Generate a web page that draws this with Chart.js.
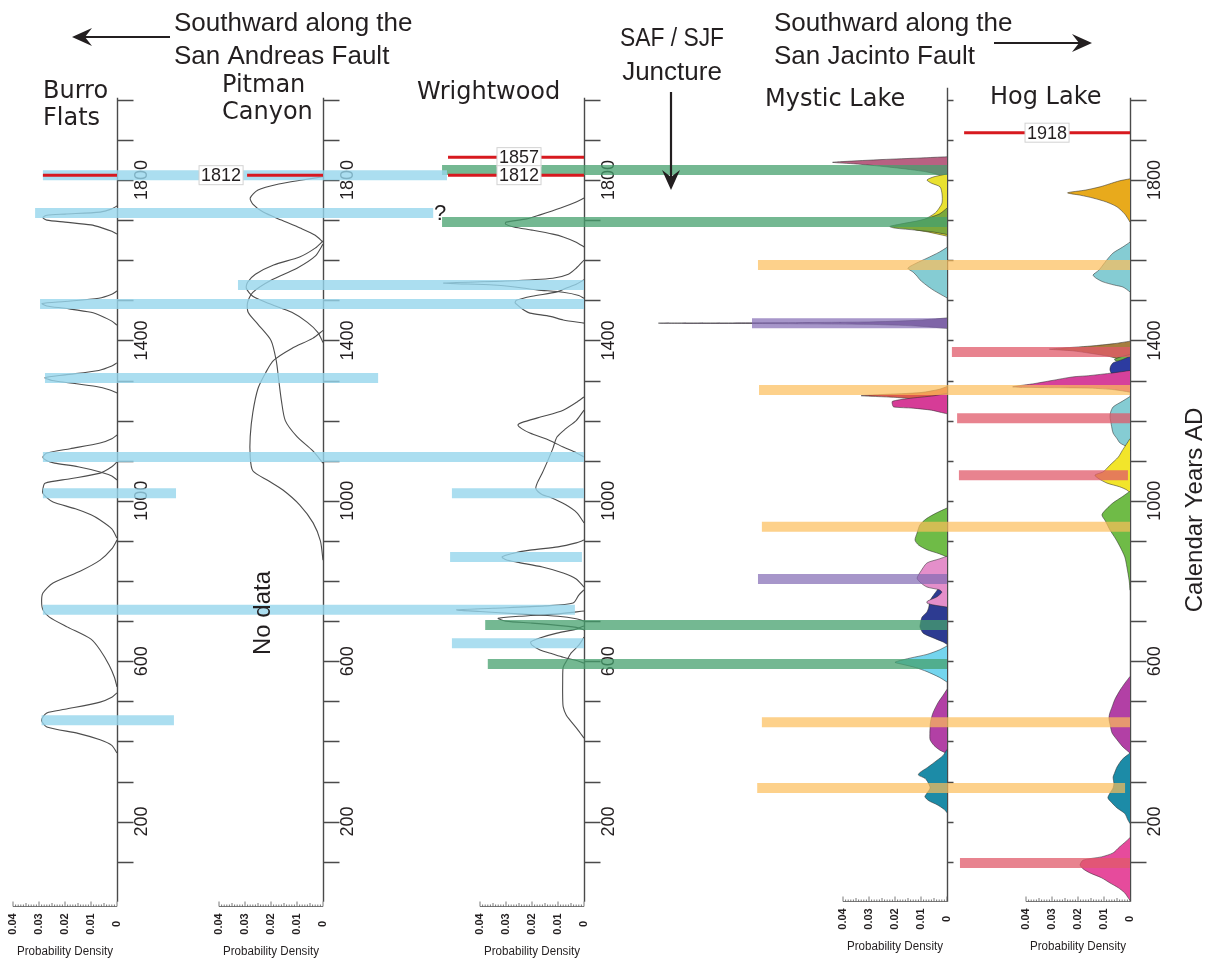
<!DOCTYPE html>
<html>
<head>
<meta charset="utf-8">
<title>Paleoseismic event correlation, SAF / SJF</title>
<script src="https://cdn.jsdelivr.net/npm/chart.js@4.4.1/dist/chart.umd.min.js"></script>
<style>
  html, body { margin: 0; padding: 0; background: #fff; }
  #wrap { width: 1215px; height: 965px; }
</style>
</head>
<body>
<div id="wrap"><canvas id="chart" width="1215" height="965"></canvas></div>
<script>
// ---- values ----
// tick labels
const yearTicks = [200, 600, 1000, 1400, 1800];
const densityTicks = [0.04, 0.03, 0.02, 0.01, 0];

// event probability curves, [calendar year AD, probability density]
// Burro Flats
const bf1 = [[1735,0],[1728,0.002],[1720,0.0065],[1715,0.02],[1712,0.027],[1706,0.0285],[1700,0.027],[1695,0.02],[1688,0.01],[1680,0.0055],[1672,0.002],[1665,0]];
const bf2 = [[1523,0],[1515,0.002],[1505,0.007],[1497,0.02],[1492,0.0288],[1486,0.027],[1480,0.02],[1470,0.01],[1458,0.005],[1448,0.002],[1438,0]];
const bf3 = [[1344,0],[1336,0.002],[1325,0.007],[1314,0.02],[1307,0.0277],[1300,0.025],[1294,0.018],[1285,0.008],[1277,0.003],[1269,0]];
const bf4 = [[1164,0],[1155,0.002],[1144,0.0065],[1130,0.018],[1119,0.027],[1109,0.0285],[1100,0.027],[1094,0.024],[1085,0.015],[1072,0.0065],[1062,0.002],[1052,0]];
const bf5 = [[1097,0],[1085,0.002],[1069,0.0065],[1055,0.018],[1044,0.0277],[1030,0.0285],[1019,0.0285],[1008,0.027],[997,0.0246],[980,0.016],[965,0.01],[952,0.0065],[930,0.002],[907,0]];
const bf6 = [[902,0],[880,0.002],[852,0.0065],[825,0.014],[795,0.0246],[770,0.0285],[750,0.029],[728,0.0285],[710,0.026],[685,0.019],[655,0.01],[628,0.0065],[590,0.003],[560,0.001],[536,0]];
const bf7 = [[521,0],[510,0.002],[498,0.0065],[480,0.02],[471,0.027],[453,0.029],[436,0.027],[420,0.015],[404,0.0065],[390,0.002],[371,0]];
// Pitman Canyon
const pc1 = [[1808,0],[1800,0.008],[1790,0.017],[1775,0.025],[1755,0.028],[1740,0.027],[1720,0.023],[1700,0.016],[1680,0.0088],[1662,0.003],[1645,0]];
const pc2 = [[1648,0],[1630,0.003],[1608,0.009],[1588,0.019],[1565,0.026],[1545,0.029],[1530,0.0295],[1510,0.027],[1490,0.02],[1470,0.012],[1445,0.006],[1420,0.002],[1395,0]];
const pc3 = [[1640,0],[1610,0.003],[1580,0.01],[1550,0.02],[1520,0.027],[1495,0.029],[1470,0.0288],[1440,0.025],[1400,0.02],[1350,0.018],[1300,0.017],[1250,0.016],[1200,0.0145],[1160,0.01],[1125,0.004],[1094,0]];
const pc4 = [[1425,0],[1405,0.004],[1380,0.012],[1350,0.019],[1320,0.022],[1280,0.025],[1220,0.027],[1160,0.028],[1110,0.028],[1075,0.027],[1050,0.021],[1027,0.0154],[990,0.009],[945,0.0038],[900,0.001],[852,0]];
// Wrightwood
const ww1 = [[1755,0],[1745,0.003],[1730,0.009],[1713,0.0169],[1703,0.022],[1695,0.03],[1690,0.0302],[1683,0.027],[1675,0.02],[1665,0.012],[1658,0.008],[1645,0.003],[1633,0]];
const ww2 = [[1600,0],[1580,0.003],[1565,0.006],[1555,0.012],[1548,0.03],[1543,0.054],[1538,0.035],[1532,0.025],[1526,0.018],[1520,0.008],[1512,0.002],[1505,0]];
const ww3 = [[1551,0],[1540,0.003],[1530,0.007],[1521,0.0104],[1510,0.02],[1500,0.026],[1494,0.0265],[1485,0.025],[1475,0.023],[1468,0.0208],[1460,0.013],[1451,0.008],[1443,0]];
const ww4 = [[1259,0],[1245,0.003],[1226,0.008],[1210,0.016],[1195,0.024],[1189,0.0254],[1180,0.024],[1169,0.0208],[1150,0.013],[1134,0.008],[1120,0.003],[1109,0]];
const ww5 = [[1226,0],[1200,0.003],[1180,0.007],[1159,0.0104],[1130,0.012],[1102,0.0138],[1070,0.016],[1044,0.018],[1030,0.0185],[1015,0.016],[1009,0.013],[990,0.007],[970,0.0027],[945,0]];
const ww6 = [[902,0],[895,0.003],[885,0.01],[877,0.0208],[868,0.028],[860,0.0315],[853,0.03],[847,0.0258],[835,0.016],[820,0.008],[805,0.003],[785,0]];
const ww7 = [[778,0],[765,0.002],[745,0.0042],[738,0.015],[732,0.035],[728,0.049],[724,0.04],[718,0.025],[712,0.01],[706,0.003],[700,0]];
const ww8 = [[725,0],[718,0.01],[712,0.025],[707,0.033],[700,0.03],[695,0.02],[688,0.008],[683,0.002],[678,0]];
const ww9 = [[688,0],[680,0.003],[670,0.0104],[658,0.017],[648,0.0205],[640,0.02],[628,0.0169],[618,0.012],[610,0.008],[600,0.002],[595,0]];
const ww10 = [[660,0],[640,0.002],[620,0.005],[603,0.0065],[585,0.008],[550,0.0082],[510,0.0082],[486,0.008],[465,0.0068],[453,0.0054],[430,0.0025],[408,0]];
// Mystic Lake
const ml1 = [[1858,0],[1855,0.01],[1851,0.025],[1846,0.04],[1844,0.044],[1840,0.035],[1836,0.028],[1832,0.022],[1826,0.014],[1820,0.0077],[1812,0.0027],[1805,0]];
const ml2 = [[1815,0],[1808,0.005],[1800,0.0077],[1792,0.006],[1783,0.0027],[1765,0.0019],[1743,0.0019],[1730,0.003],[1718,0.0045],[1700,0.009],[1688,0.013],[1678,0.013],[1670,0.007],[1660,0]];
const ml3 = [[1730,0],[1715,0.003],[1700,0.01],[1690,0.018],[1684,0.022],[1680,0.02],[1675,0.012],[1670,0.005],[1664,0]];
const ml4 = [[1632,0],[1620,0.003],[1605,0.0077],[1592,0.012],[1580,0.015],[1570,0.013],[1560,0.0115],[1551,0.0104],[1538,0.008],[1526,0.0054],[1515,0.0025],[1506,0]];
const ml5 = [[1456,0],[1450,0.012],[1446,0.03],[1444,0.07],[1443,0.111],[1442,0.07],[1440,0.03],[1436,0.012],[1430,0]];
const ml6 = [[1285,0],[1278,0.003],[1270,0.01],[1265,0.025],[1262,0.033],[1258,0.02],[1252,0.01],[1245,0.004],[1238,0]];
const ml7 = [[1268,0],[1262,0.005],[1255,0.015],[1248,0.021],[1240,0.021],[1234,0.0205],[1231,0.013],[1226,0.006],[1221,0.0027],[1217,0]];
const ml8 = [[982,0],[970,0.004],[955,0.008],[940,0.0104],[920,0.0115],[902,0.0123],[890,0.011],[878,0.0077],[868,0.003],[860,0]];
const ml9 = [[815,0],[800,0.0015],[777,0.0038],[752,0.0065],[735,0.007],[723,0.0077],[710,0.0096],[695,0.0102],[685,0.0104],[670,0.0092],[660,0.006],[648,0.0015],[642,0]];
const ml10 = [[862,0],[855,0.003],[845,0.0077],[825,0.01],[807,0.0115],[795,0.01],[785,0.0077],[778,0.003],[772,0.002],[760,0.004],[750,0.0075],[745,0.0077],[740,0.005],[735,0]];
const ml11 = [[638,0],[628,0.003],[617,0.0077],[608,0.014],[600,0.019],[597,0.02],[592,0.017],[584,0.012],[574,0.0077],[560,0.003],[548,0]];
const ml12 = [[530,0],[515,0.0015],[496,0.0035],[471,0.0054],[450,0.0063],[436,0.0065],[420,0.0066],[404,0.0065],[390,0.005],[378,0.0027],[370,0]];
const ml13 = [[380,0],[365,0.0015],[353,0.0038],[335,0.0075],[322,0.0105],[316,0.011],[308,0.0085],[300,0.0075],[284,0.0065],[270,0.0078],[262,0.0085],[252,0.007],[242,0.0038],[230,0.001],[222,0]];
// Hog Lake
const hl1 = [[1803,0],[1798,0.004],[1790,0.008],[1783,0.0115],[1775,0.017],[1768,0.024],[1762,0.019],[1755,0.0142],[1745,0.009],[1733,0.005],[1715,0.002],[1695,0]];
const hl2 = [[1645,0],[1632,0.003],[1618,0.0065],[1600,0.009],[1588,0.0104],[1575,0.012],[1563,0.0142],[1555,0.013],[1546,0.0104],[1538,0.006],[1533,0.0027],[1521,0]];
const hl3 = [[1398,0],[1392,0.006],[1386,0.015],[1380,0.028],[1378,0.031],[1374,0.022],[1368,0.0154],[1360,0.008],[1350,0.003],[1340,0]];
const hl4 = [[1365,0],[1358,0.004],[1352,0.006],[1346,0.004],[1340,0]];
const hl5 = [[1360,0],[1352,0.003],[1344,0.0065],[1335,0.0075],[1326,0.0077],[1316,0.007],[1309,0.0058],[1300,0.004],[1290,0.002],[1282,0]];
const hl6 = [[1325,0],[1319,0.0065],[1312,0.016],[1309,0.022],[1300,0.03],[1292,0.037],[1284,0.045],[1281,0.0154],[1277,0.006],[1271,0]];
const hl7 = [[1260,0],[1248,0.003],[1234,0.0065],[1220,0.0075],[1209,0.0077],[1190,0.0072],[1169,0.0065],[1155,0.005],[1144,0.0038],[1134,0.001],[1125,0]];
const hl8 = [[1155,0],[1140,0.0015],[1125,0.003],[1109,0.0045],[1089,0.0077],[1080,0.009],[1072,0.0104],[1064,0.0135],[1055,0.012],[1044,0.0088],[1035,0.004],[1027,0.0012],[1020,0]];
const hl9 = [[1024,0],[1010,0.003],[995,0.0065],[980,0.009],[965,0.0108],[950,0.0095],[927,0.0077],[905,0.0055],[885,0.0038],[860,0.002],[835,0.0012],[800,0.0003],[777,0]];
const hl10 = [[562,0],[545,0.002],[528,0.0038],[505,0.0058],[486,0.0069],[470,0.0078],[458,0.0081],[440,0.0076],[421,0.0069],[400,0.0045],[386,0.0027],[371,0]];
const hl11 = [[371,0],[355,0.003],[336,0.005],[320,0.006],[311,0.0065],[295,0.0062],[284,0.0065],[270,0.0078],[259,0.0085],[247,0.007],[234,0.005],[220,0.002],[204,0.0008],[195,0]];
const hl12 = [[160,0],[148,0.002],[137,0.004],[122,0.0065],[112,0.011],[104,0.018],[92,0.0192],[82,0.018],[72,0.0154],[60,0.011],[47,0.0077],[35,0.0045],[22,0.002],[8,0.0005],[4,0]];

// correlation bars: [year, from site, from density, to site, to density]
const blueBars = [
  [1812, 'BF', 0.0285, 'WW', 0.0527], [1718, 'BF', 0.0315, 'WW', 0.058],
  [1491, 'BF', 0.0296, 'WW', 0], [1306, 'BF', 0.0277, 'PC', -0.0212],
  [1109, 'BF', 0.0285, 'WW', 0], [1019, 'BF', 0.0285, 'BF', -0.0227],
  [728, 'BF', 0.0285, 'WW', 0.0035], [453, 'BF', 0.029, 'BF', -0.0219],
  [1538, 'PC', 0.0327, 'WW', 0], [1019, 'WW', 0.0508, 'WW', 0],
  [860, 'WW', 0.0515, 'WW', 0.0008], [645, 'WW', 0.0508, 'WW', 0]
];
const greenBars = [[1825, 'WW', 0.0546, 'ML', 0], [1695, 'WW', 0.0546, 'ML', 0], [690, 'WW', 0.038, 'ML', 0], [593, 'WW', 0.037, 'ML', 0]];
const orangeBars = [[1588, 'ML', 0.0727, 'HL', 0], [1276, 'ML', 0.0723, 'HL', 0], [935, 'ML', 0.0712, 'HL', 0], [448, 'ML', 0.0712, 'HL', 0], [284, 'ML', 0.073, 'HL', 0.0019]];
const purpleBars = [[1443, 'ML', 0.075, 'ML', 0], [805, 'ML', 0.0727, 'ML', 0]];
const salmonBars = [[1371, 'HL', 0.0685, 'HL', 0], [1206, 'HL', 0.0665, 'HL', 0], [1064, 'HL', 0.0658, 'HL', 0.0008], [97, 'HL', 0.0654, 'HL', 0]];

// historic ruptures (red lines) and their year tags: [year, site, density at tag centre]
const historicLines = [[1812, 'BF', 0.0285, 'BF', 0], [1812, 'PC', 0.0292, 'PC', 0], [1857, 'WW', 0.0523, 'WW', 0], [1812, 'WW', 0.0523, 'WW', 0], [1918, 'HL', 0.0638, 'HL', 0]];
const historicTags = [[1812, 'PC', 0.0392], [1857, 'WW', 0.025], [1812, 'WW', 0.025], [1918, 'HL', 0.0319]];

const siteNames = { BF: ['Burro', 'Flats'], PC: ['Pitman', 'Canyon'], WW: ['Wrightwood'], ML: ['Mystic Lake'], HL: ['Hog Lake'] };

// ---- layout ----
const W = 1215, H = 965;
const PX_PER_YEAR = 0.401;
const PX_PER_DENSITY = 2600;
const Y_MAX = 1800 + 180 / PX_PER_YEAR;
const siteKeys = ['BF', 'PC', 'WW', 'ML', 'HL'];
const siteLayout = {
  BF: { axisPx: 117, axisTop: 2005, tickLen: 16, yearLabels: true, rulerY: 906, name: [43, 92] },
  PC: { axisPx: 323, axisTop: 2005, tickLen: 16, yearLabels: true, rulerY: 906, name: [222, 86] },
  WW: { axisPx: 584, axisTop: 2005, tickLen: 16, yearLabels: true, rulerY: 906, name: [417, 93] },
  ML: { axisPx: 947, axisTop: 2030, tickLen: 6, yearLabels: false, rulerY: 901, name: [765, 100] },
  HL: { axisPx: 1130, axisTop: 2005, tickLen: 16, yearLabels: true, rulerY: 901, name: [990, 98] }
};
const toPx = (site, d) => siteLayout[site].axisPx - d * PX_PER_DENSITY;

const curves = [
  ['BF', [bf1, bf2, bf3, bf4, bf5, bf6, bf7]],
  ['PC', [pc1, pc2, pc3, pc4]],
  ['WW', [ww1, ww2, ww3, ww4, ww5, ww6, ww7, ww8, ww9, ww10]]
];
const filledCurves = [
  ['ML', ml1, '#b86182'], ['ML', ml2, '#e9e131'], ['ML', ml3, '#7ba83d'], ['ML', ml4, '#85ccd3'],
  ['ML', ml5, '#7b5c8c'], ['ML', ml6, '#dc5a4e'], ['ML', ml7, '#d63c97'], ['ML', ml8, '#6fbb47'],
  ['ML', ml9, '#2d3b91'], ['ML', ml10, '#e48fca'], ['ML', ml11, '#74d5ee'], ['ML', ml12, '#b240a5'],
  ['ML', ml13, '#1c8ba7'],
  ['HL', hl1, '#e8aa1c'], ['HL', hl2, '#85ccd3'], ['HL', hl3, '#a67d3f'], ['HL', hl4, '#6db04d'],
  ['HL', hl5, '#2c3ba0'], ['HL', hl6, '#d6419b'], ['HL', hl7, '#85ccd3'], ['HL', hl8, '#f2e52b'],
  ['HL', hl9, '#6fbb47'], ['HL', hl10, '#b240a5'], ['HL', hl11, '#1c8ba7'], ['HL', hl12, '#e64b9c']
];

const datasets = [];
let order = 200;
curves.forEach(([site, list]) => {
  list.forEach(pts => {
    datasets.push({
      data: pts.map(p => ({ x: p[1], y: p[0] })),
      xAxisID: 'x' + site, yAxisID: 'y',
      borderColor: '#4d4d4d', borderWidth: 1.1, fill: false,
      pointRadius: 0, tension: 0.25, order: order--
    });
  });
});
filledCurves.forEach(([site, pts, color]) => {
  datasets.push({
    data: pts.map(p => ({ x: p[1], y: p[0] })),
    xAxisID: 'x' + site, yAxisID: 'y',
    borderColor: 'rgba(40,40,40,0.75)', borderWidth: 0.7,
    backgroundColor: color, fill: { value: 0 },
    pointRadius: 0, tension: 0.25, order: order--
  });
});
function bandSets(list, color, width, ord) {
  list.forEach(([yr, s1, d1, s2, d2]) => {
    datasets.push({
      data: [{ x: toPx(s1, d1), y: yr }, { x: toPx(s2, d2), y: yr }],
      xAxisID: 'xg', yAxisID: 'y',
      borderColor: color, borderWidth: width, borderCapStyle: 'butt',
      fill: false, pointRadius: 0, order: ord
    });
  });
}
bandSets(blueBars, 'rgba(150,214,236,0.8)', 10, 2);
bandSets(greenBars, 'rgba(70,160,110,0.75)', 10, 2);
bandSets(orangeBars, 'rgba(252,190,90,0.7)', 10, 2);
bandSets(purpleBars, 'rgba(130,105,180,0.7)', 10, 2);
bandSets(salmonBars, 'rgba(224,90,105,0.75)', 10, 2);
bandSets(historicLines, '#d7191f', 3, 0);

const scales = {
  y: { type: 'linear', display: false, min: Y_MAX - H / PX_PER_YEAR, max: Y_MAX },
  xg: { type: 'linear', axis: 'x', display: false, min: 0, max: W }
};
siteKeys.forEach(k => {
  const a = siteLayout[k].axisPx / PX_PER_DENSITY;
  scales['x' + k] = { type: 'linear', axis: 'x', display: false, reverse: true, min: a - W / PX_PER_DENSITY, max: a };
});

const SANS = '"Liberation Sans", Arial, sans-serif';
const WIDE = '"DejaVu Sans", Verdana, sans-serif';

function rotatedText(ctx, text, x, y) {
  ctx.save();
  ctx.translate(x, y);
  ctx.rotate(-Math.PI / 2);
  ctx.fillText(text, 0, 0);
  ctx.restore();
}

function arrow(ctx, x1, y1, x2, y2) {
  const a = Math.atan2(y2 - y1, x2 - x1);
  ctx.beginPath();
  ctx.moveTo(x1, y1);
  ctx.lineTo(x2 - 10 * Math.cos(a), y2 - 10 * Math.sin(a));
  ctx.stroke();
  ctx.save();
  ctx.translate(x2, y2);
  ctx.rotate(a);
  ctx.beginPath();
  ctx.moveTo(0, 0);
  ctx.lineTo(-20, -9);
  ctx.lineTo(-13, 0);
  ctx.lineTo(-20, 9);
  ctx.closePath();
  ctx.fill();
  ctx.restore();
}

// axes of each site column, density rulers and the captions
const siteFrames = {
  id: 'siteFrames',
  beforeDatasetsDraw(chart) {
    const { ctx, scales: sc } = chart;
    const y = sc.y;
    ctx.save();
    siteKeys.forEach(k => {
      const s = siteLayout[k];
      const xs = sc['x' + k];
      const x0 = Math.round(xs.getPixelForValue(0)) + 0.5;
      ctx.strokeStyle = '#4a4a4a';
      ctx.lineWidth = 1.4;
      ctx.beginPath();
      ctx.moveTo(x0, y.getPixelForValue(s.axisTop));
      ctx.lineTo(x0, y.getPixelForValue(0));
      for (let yr = 100; yr <= 2000; yr += 100) {
        const py = Math.round(y.getPixelForValue(yr)) + 0.5;
        ctx.moveTo(x0, py);
        ctx.lineTo(x0 + s.tickLen, py);
      }
      ctx.stroke();
      if (s.yearLabels) {
        ctx.fillStyle = '#231f20';
        ctx.font = '18px ' + SANS;
        ctx.textAlign = 'center';
        ctx.textBaseline = 'middle';
        yearTicks.forEach(yr => rotatedText(ctx, String(yr), x0 + 25, y.getPixelForValue(yr)));
      }
      // density ruler
      const ry = s.rulerY + 0.5;
      ctx.strokeStyle = '#555';
      ctx.lineWidth = 0.8;
      ctx.beginPath();
      ctx.moveTo(xs.getPixelForValue(0.04), ry);
      ctx.lineTo(xs.getPixelForValue(0), ry);
      for (let i = 0; i <= 40; i++) {
        const px = xs.getPixelForValue(i / 1000);
        const h = i % 10 === 0 ? 5 : (i % 5 === 0 ? 3.5 : 2);
        ctx.moveTo(px, ry);
        ctx.lineTo(px, ry - h);
      }
      ctx.stroke();
      ctx.fillStyle = '#231f20';
      ctx.font = 'bold 11px ' + SANS;
      ctx.textAlign = 'center';
      ctx.textBaseline = 'middle';
      densityTicks.forEach(d => rotatedText(ctx, d === 0 ? '0' : d.toFixed(2), xs.getPixelForValue(d), s.rulerY + 18));
      ctx.font = '12px ' + SANS;
      ctx.fillText('Probability Density', xs.getPixelForValue(0.02), s.rulerY + 46, 96);
    });
    ctx.restore();
  },
  afterDatasetsDraw(chart) {
    const { ctx, scales: sc } = chart;
    const y = sc.y;
    ctx.save();
    // year tags on the historic ruptures
    ctx.font = '18px ' + SANS;
    ctx.textAlign = 'center';
    ctx.textBaseline = 'middle';
    historicTags.forEach(([yr, site, d]) => {
      const cx = sc['x' + site].getPixelForValue(d);
      const cy = y.getPixelForValue(yr);
      const w = ctx.measureText(String(yr)).width + 4;
      ctx.fillStyle = '#fff';
      ctx.fillRect(cx - w / 2, cy - 9.5, w, 19);
      ctx.strokeStyle = '#d2d2d2';
      ctx.lineWidth = 1;
      ctx.strokeRect(cx - w / 2, cy - 9.5, w, 19);
      ctx.fillStyle = '#231f20';
      ctx.fillText(String(yr), cx, cy + 1);
    });
    ctx.restore();
  },
  afterDraw(chart) {
    const { ctx } = chart;
    ctx.save();
    ctx.fillStyle = '#231f20';
    ctx.strokeStyle = '#231f20';
    ctx.textBaseline = 'middle';
    // site names
    ctx.font = '24px ' + WIDE;
    ctx.textAlign = 'left';
    siteKeys.forEach(k => {
      const [nx, ny] = siteLayout[k].name;
      siteNames[k].forEach((line, i) => ctx.fillText(line, nx, ny + i * 27));
    });
    // direction notes
    ctx.font = '26px ' + SANS;
    ctx.fillText('Southward along the', 174, 24);
    ctx.fillText('San Andreas Fault', 174, 57);
    ctx.fillText('Southward along the', 774, 24);
    ctx.fillText('San Jacinto Fault', 774, 57);
    ctx.textAlign = 'center';
    ctx.fillText('SAF / SJF', 672, 39, 104);
    ctx.fillText('Juncture', 672, 73);
    ctx.lineWidth = 2.2;
    arrow(ctx, 170, 37, 72, 37);
    arrow(ctx, 994, 43, 1092, 43);
    arrow(ctx, 671, 92, 671, 190);
    // notes
    ctx.font = '22px ' + SANS;
    ctx.fillText('?', 440, 214);
    ctx.font = '24px ' + SANS;
    rotatedText(ctx, 'No data', 263, 613);
    rotatedText(ctx, 'Calendar Years AD', 1195, 510);
    ctx.restore();
  }
};

new Chart(document.getElementById('chart').getContext('2d'), {
  type: 'line',
  data: { datasets: datasets },
  options: {
    responsive: false,
    devicePixelRatio: 1,
    animation: false,
    indexAxis: 'y',
    events: [],
    layout: { padding: 0 },
    scales: scales,
    plugins: {
      legend: { display: false },
      tooltip: { enabled: false },
      title: { display: false }
    }
  },
  plugins: [siteFrames]
});
</script>
</body>
</html>
